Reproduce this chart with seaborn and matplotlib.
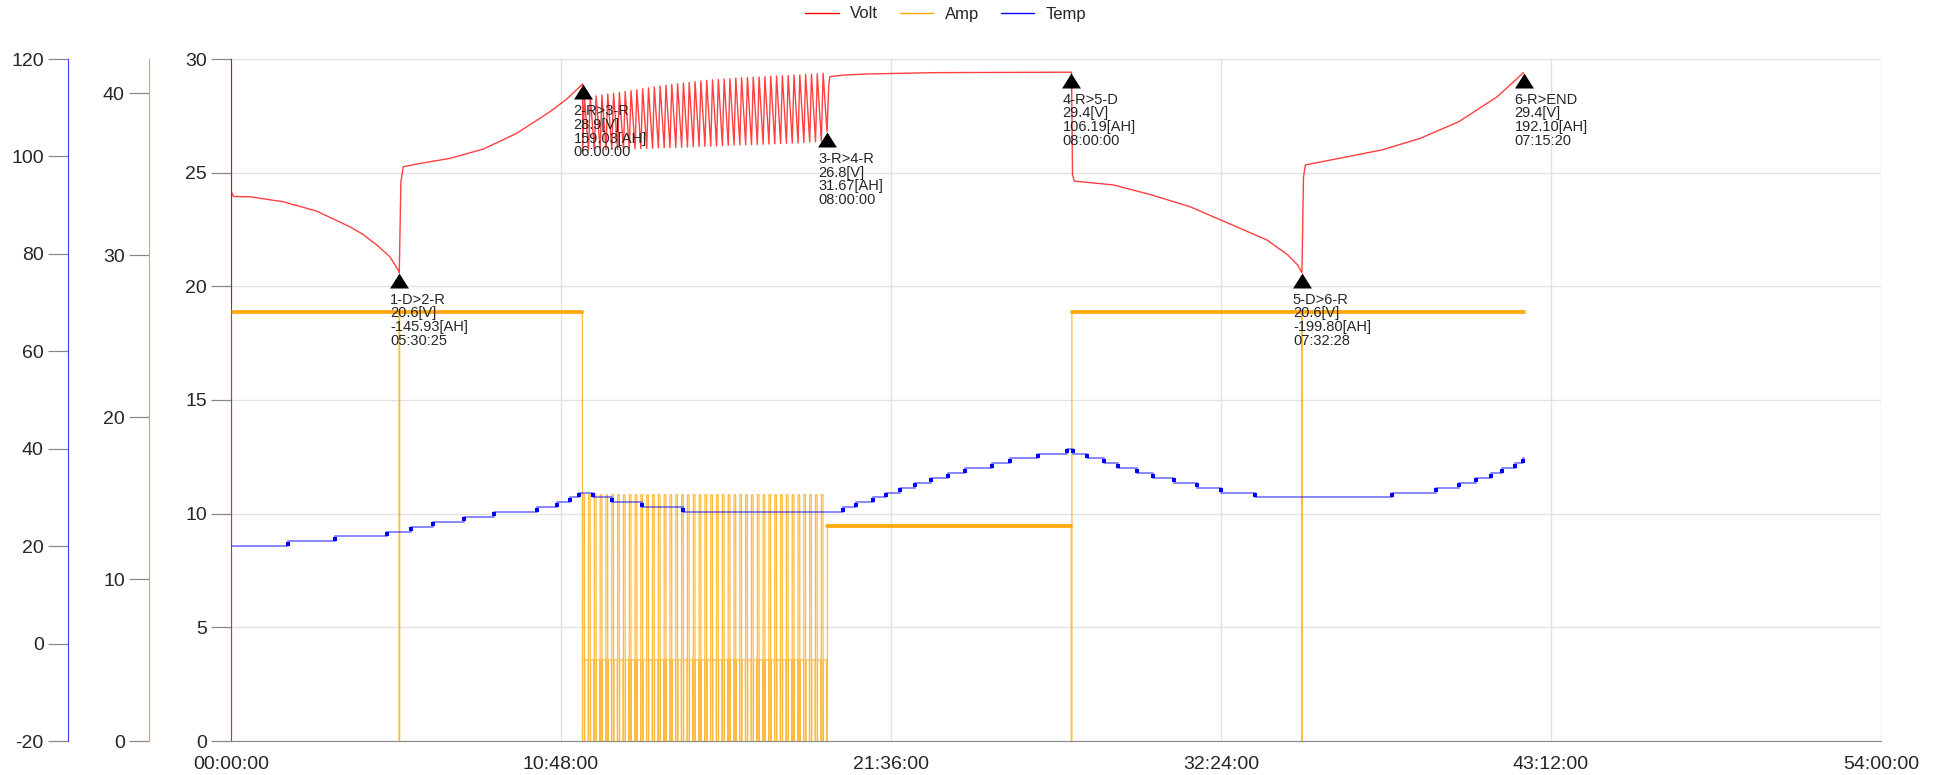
import matplotlib
matplotlib.use('Agg')
import matplotlib.pyplot as plt
from matplotlib.lines import Line2D
from matplotlib.path import Path
from matplotlib.ticker import FuncFormatter
import seaborn as sns

# ---- data, time in hours ----
# volt curve pieces (outside the pulse step)
volt_dis1_t = [0.0, 0.0, 0.01, 0.08, 0.62, 1.71, 2.80, 3.89, 4.30, 4.77, 5.20, 5.47, 5.507]
volt_dis1_v = [0.0, 30.0, 24.16, 23.95, 23.94, 23.72, 23.31, 22.62, 22.30, 21.82, 21.30, 20.72, 20.6]
volt_chg2_t = [5.507, 5.56, 5.64, 6.08, 7.17, 8.26, 9.35, 10.44, 11.0, 11.507]
volt_chg2_v = [20.6, 24.6, 25.26, 25.38, 25.63, 26.04, 26.73, 27.68, 28.25, 28.9]
volt_hold_t = [19.507, 19.56, 19.60, 20.0, 20.8, 23.0, 27.507]
volt_hold_v = [26.8, 28.8, 29.22, 29.29, 29.34, 29.40, 29.42]
volt_dis5_t = [27.507, 27.54, 27.60, 28.88, 30.13, 31.39, 32.65, 33.90, 34.57, 34.90, 35.048]
volt_dis5_v = [29.42, 24.9, 24.63, 24.46, 24.02, 23.50, 22.77, 22.04, 21.40, 20.95, 20.6]
volt_chg6_t = [35.048, 35.10, 35.16, 36.41, 37.67, 38.92, 40.18, 41.44, 42.30]
volt_chg6_v = [20.6, 24.8, 25.34, 25.67, 26.0, 26.51, 27.24, 28.34, 29.4]

# pulse step 3-R (11.507h .. 19.507h): per-cycle voltage peaks and valleys
pulse_t0, pulse_t1 = 11.507, 19.507
pulse_volt_high = [28.30, 28.34, 28.38, 28.42, 28.46, 28.49, 28.53, 28.57, 28.61, 28.65,
                   28.69, 28.73, 28.77, 28.81, 28.85, 28.88, 28.91, 28.94, 28.97, 29.00,
                   29.03, 29.06, 29.08, 29.10, 29.12, 29.14, 29.16, 29.18, 29.19, 29.20,
                   29.21, 29.22, 29.24, 29.25, 29.26, 29.27, 29.29, 29.30, 29.32, 29.33,
                   29.35, 29.37]
pulse_volt_low = [26.00, 26.00, 26.00, 26.01, 26.01, 26.02, 26.02, 26.03, 26.04, 26.05,
                  26.06, 26.07, 26.08, 26.09, 26.10, 26.10, 26.11, 26.12, 26.13, 26.14,
                  26.15, 26.16, 26.17, 26.18, 26.19, 26.20, 26.21, 26.22, 26.22, 26.23,
                  26.24, 26.25, 26.26, 26.27, 26.28, 26.29, 26.30, 26.31, 26.33, 26.35,
                  26.36, 26.38]
# one pulse cycle of current: position inside the cycle and level
pulse_amp_pos = [0.00, 0.02, 0.30, 0.32, 0.36, 0.38, 0.96, 0.98]
pulse_amp_val = [0.0, 15.2, 15.2, 0.0, 0.0, 5.0, 5.0, 0.0]

# constant current / hold steps
amp_seg_start = [0.0, 5.52, 19.52, 27.52, 35.06]
amp_seg_end = [5.50, 11.50, 27.50, 35.04, 42.30]
amp_seg_level = [26.5, 26.5, 13.3, 26.5, 26.5]

# temperature steps
temp_t = [0, 1.88, 3.40, 5.09, 5.89, 6.60, 7.64, 8.62, 10.02, 10.66,
          11.09, 11.40, 11.86, 12.46, 13.44, 14.80, 20.02, 20.45, 21.0, 21.42,
          21.89, 22.39, 22.90, 23.47, 24.01, 24.89, 25.51, 26.40, 27.37, 27.54,
          28.02, 28.57, 29.04, 29.64, 30.16, 30.86, 31.60, 32.40, 33.51, 37.98,
          39.45, 40.19, 40.76, 41.23, 41.58, 42.02, 42.27, 42.30]
temp_v = [20, 21, 22, 23, 24, 25, 26, 27, 28, 29,
          30, 31, 30, 29, 28, 27, 28, 29, 30, 31,
          32, 33, 34, 35, 36, 37, 38, 39, 40, 39,
          38, 37, 36, 35, 34, 33, 32, 31, 30, 31,
          32, 33, 34, 35, 36, 37, 38, 38]

# step change markers
mark_t = [5.507, 11.507, 19.507, 27.507, 35.048, 42.30]
mark_v = [20.6, 28.9, 26.8, 29.4, 20.6, 29.4]
mark_name = ['1-D>2-R', '2-R>3-R', '3-R>4-R', '4-R>5-D', '5-D>6-R', '6-R>END']
mark_ah = ['-145.93', '159.03', '31.67', '106.19', '-199.80', '192.10']
mark_time = ['05:30:25', '06:00:00', '08:00:00', '08:00:00', '07:32:28', '07:15:20']

x_ticks = [0, 10.8, 21.6, 32.4, 43.2, 54]

# ---- build series ----
n_cyc = len(pulse_volt_high)
period = (pulse_t1 - pulse_t0) / n_cyc

pulse_vt, pulse_vv = [], []
for k in range(n_cyc):
    pulse_vt += [pulse_t0 + (k + 0.02) * period, pulse_t0 + (k + 0.32) * period]
    pulse_vv += [pulse_volt_low[k], pulse_volt_high[k]]

volt_t = volt_dis1_t + volt_chg2_t + pulse_vt + volt_hold_t + volt_dis5_t + volt_chg6_t
volt_v = volt_dis1_v + volt_chg2_v + pulse_vv + volt_hold_v + volt_dis5_v + volt_chg6_v

amp_t, amp_v = [], []
for i in range(len(amp_seg_start)):
    if i == 2:
        for k in range(n_cyc):
            amp_t += [pulse_t0 + (k + p) * period for p in pulse_amp_pos]
            amp_v += pulse_amp_val
    amp_t += [amp_seg_start[i], amp_seg_start[i], amp_seg_end[i]]
    amp_v += [0.0, amp_seg_level[i], amp_seg_level[i]]
    if i < len(amp_seg_start) - 1:
        amp_t += [amp_seg_end[i]]
        amp_v += [0.0]

# ---- plot ----
sns.set_style('white')
plt.rcParams['font.family'] = ['Liberation Sans', 'DejaVu Sans']
plt.rcParams['axes.unicode_minus'] = False

c_volt, c_amp, c_temp = '#ff0000', '#ffa500', '#0000ff'
grey = '#888888'

fig = plt.figure(figsize=(19.41, 7.75), dpi=100)
rect = [231 / 1941, 34 / 775, 1650 / 1941, 682 / 775]
ax = fig.add_axes(rect)
ax_amp = ax.twinx()
ax_temp = ax.twinx()
ax_v = ax.twinx()

# base axis: volt scale, grid, time axis
ax.set_xlim(0, 54)
ax.set_ylim(0, 30)
ax.set_xticks(x_ticks)
ax.xaxis.set_major_formatter(FuncFormatter(
    lambda h, pos: '{:02d}:{:02d}:00'.format(int(h + 1e-6), int(round(h * 60)) % 60)))
ax.set_yticks(range(0, 31, 5))
ax.grid(True, color='#e2e2e2', lw=1)
ax.set_axisbelow(True)
for s in ['top', 'right']:
    ax.spines[s].set_visible(False)
ax.spines['left'].set_color(c_volt)
ax.spines['bottom'].set_color(grey)
ax.tick_params(axis='y', length=14.4, width=0.9, color=grey, pad=3, labelsize=14)
ax.tick_params(axis='x', length=6.5, width=0.9, color=grey, pad=4, labelsize=14)

for a, col, off, lim, ticks in [(ax_amp, c_amp, -82 / 1650, (0, 42.1), range(0, 41, 10)),
                                (ax_temp, '#3a3aff', -163 / 1650, (-20, 120), range(-20, 121, 20))]:
    for s in ['top', 'right', 'bottom']:
        a.spines[s].set_visible(False)
    a.spines['left'].set_visible(True)
    a.spines['left'].set_position(('axes', off))
    a.spines['left'].set_color(col)
    a.yaxis.tick_left()
    a.yaxis.set_label_position('left')
    a.set_ylim(*lim)
    a.set_yticks(list(ticks))
    a.tick_params(axis='y', left=True, right=False, labelleft=True, labelright=False,
                  length=14.4, width=0.9, color=grey, pad=3, labelsize=14)

for s in ax_v.spines.values():
    s.set_visible(False)
ax_v.set_ylim(0, 30)
ax_v.set_yticks([])

# amp
sns.lineplot(x=amp_t, y=amp_v, sort=False, estimator=None, color=c_amp, lw=0.9,
             alpha=0.75, ax=ax_amp, legend=False)
for s0, s1, lv in zip(amp_seg_start, amp_seg_end, amp_seg_level):
    sns.lineplot(x=[s0, s1], y=[lv, lv], sort=False, estimator=None, color=c_amp,
                 lw=2.8, alpha=0.9, ax=ax_amp, legend=False)

# temp
sns.lineplot(x=temp_t, y=temp_v, sort=False, estimator=None, color=c_temp, lw=1.3,
             alpha=0.5, drawstyle='steps-post', ax=ax_temp, legend=False)
step_x = temp_t[1:-1]
step_y = [(temp_v[i] + temp_v[i + 1]) / 2 for i in range(len(temp_v) - 2)]
sns.scatterplot(x=step_x, y=step_y, marker='s', s=10, color=c_temp, linewidth=0,
                ax=ax_temp, legend=False)

# volt
sns.lineplot(x=volt_t, y=volt_v, sort=False, estimator=None, color=c_volt, lw=1.0,
             alpha=0.75, ax=ax_v, legend=False)

# step markers
tri = Path([(0, 0), (-0.63, -1), (0.63, -1), (0, 0)],
           [Path.MOVETO, Path.LINETO, Path.LINETO, Path.CLOSEPOLY])
sns.scatterplot(x=mark_t, y=mark_v, marker=tri, s=21.6 ** 2, color='black',
                linewidth=0, ax=ax_v, legend=False, zorder=5)
for t, v, nm, ah, tm in zip(mark_t, mark_v, mark_name, mark_ah, mark_time):
    ax_v.annotate('{}\n{:.1f}[V]\n{}[AH]\n{}'.format(nm, v, ah, tm), xy=(t, v),
                  xytext=(-9, -20), textcoords='offset pixels', ha='left', va='top',
                  fontsize=10.5, linespacing=0.98, zorder=6)

for a in [ax, ax_amp, ax_temp, ax_v]:
    a.set_xlabel('')
    a.set_ylabel('')
ax_v.set_xlim(0, 54)

handles = [Line2D([], [], color=c_volt, lw=1), Line2D([], [], color=c_amp, lw=1),
           Line2D([], [], color=c_temp, lw=1)]
fig.legend(handles, ['Volt', 'Amp', 'Temp'], loc='center', bbox_to_anchor=(946 / 1941, 1 - 14 / 775),
           ncol=3, frameon=False, fontsize=12, handlelength=2.0, columnspacing=1.3,
           handletextpad=0.7)

fig.savefig('out.png', dpi=100)
